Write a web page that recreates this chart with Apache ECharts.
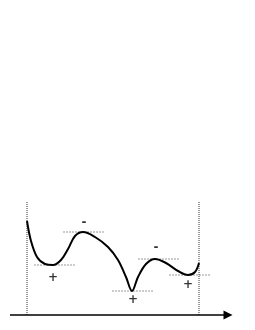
<!DOCTYPE html>
<html><head><meta charset="utf-8">
<script src="https://cdn.jsdelivr.net/npm/echarts@6/dist/echarts.min.js"></script>
<style>html,body{margin:0;padding:0;background:#fff}#c{width:255px;height:330px}</style>
</head><body><div id="c"></div>
<script>
// Curve (schematic units: x across, y measured downward in the drawing frame)
var curveX = [27,31,37,45,53,61,68,75,83,95,108,118,126,132,138,146,155,166,178,188,195,199];
var curveY = [221,241,257,264,265,260,249,236,232,237,247,260,277,291,277,264,259,263,271,275,272,263];
// Dashed reference levels at extrema: [xStart, xEnd, level]
var levelStart = [34, 63, 112, 138, 169];
var levelEnd   = [75, 105, 153, 180, 210];
var levelValue = [265, 232, 291, 259, 275];
// Sign annotations
var signText = ['+', '-', '+', '-', '+'];
var signX = [53, 84, 133, 156, 188];
var signY = [278, 223, 300, 248, 285];
// Boundaries and axis
var boundX = [27, 199];
var boundTop = 202;
var axisLevel = 315;
var axisStart = 10, axisEnd = 228;

var chart = echarts.init(document.getElementById('c'));
var series = [];
series.push({
  type: 'line', smooth: 0.35, symbol: 'none',
  data: curveX.map(function(x,i){return [x, curveY[i]];}),
  lineStyle: {color: '#000', width: 2}, z: 5
});
levelStart.forEach(function(s,i){
  series.push({type:'line', symbol:'none', data:[[s, levelValue[i]],[levelEnd[i], levelValue[i]]],
    lineStyle:{color:'#9a9a9a', width:1, type:[2,1]}, z:2});
});
boundX.forEach(function(x){
  series.push({type:'line', symbol:'none', data:[[x, boundTop],[x, axisLevel]],
    lineStyle:{color:'#333', width:1, type:[1,1]}, z:2});
});
series.push({
  type:'line', symbol:'none', data:[],
  markLine:{silent:true, symbol:['none','triangle'], symbolSize:[9,9],
    lineStyle:{color:'#000', width:1.5, type:'solid'}, label:{show:false},
    data:[[{coord:[axisStart, axisLevel]},{coord:[axisEnd, axisLevel]}]]}
});
series.push({
  type:'scatter', symbolSize:0,
  data: signX.map(function(x,i){return {value:[x, signY[i]], name:signText[i]};}),
  label:{show:true, position:'inside', formatter:function(p){return p.name;},
    color:'#000', fontSize:12, fontWeight:'bold', fontFamily:'DejaVu Sans'}
});
chart.setOption({
  animation:false,
  grid:{left:0,right:0,top:0,bottom:0},
  xAxis:{type:'value', min:0, max:255, show:false},
  yAxis:{type:'value', min:0, max:330, inverse:true, show:false},
  series: series
});
</script></body></html>
